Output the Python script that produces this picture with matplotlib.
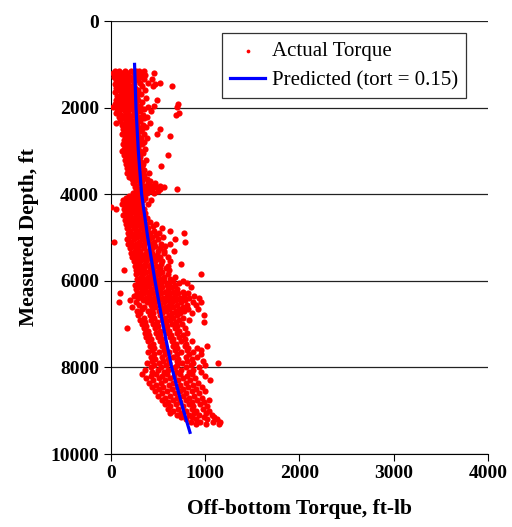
import matplotlib.pyplot as plt

# - - - Measured data (read off the chart) - - - #
# each row: depth (ft), torque values (ft-lb) at that depth
actual_rows = [
    (1160, [40, 85, 150, 210, 265, 300, 345]),
    (1200, [20, 120, 180, 240, 330, 455]),
    (1240, [60, 100, 160, 280, 365]),
    (1290, [35, 135, 205, 250, 315]),
    (1330, [75, 115, 190, 290, 350, 440]),
    (1370, [50, 145, 225, 270]),
    (1420, [95, 165, 310, 395, 515]),
    (1460, [40, 120, 185, 240, 470]),
    (1500, [70, 150, 205, 330, 445, 650]),
    (1550, [55, 100, 175, 255]),
    (1590, [85, 140, 215, 290, 360]),
    (1640, [45, 125, 190, 265]),
    (1690, [105, 160, 235, 320]),
    (1730, [65, 140, 200, 280]),
    (1780, [90, 175, 250, 370]),
    (1820, [50, 120, 215, 290, 490]),
    (1870, [80, 155, 230, 330]),
    (1910, [40, 110, 190, 260, 715]),
    (1950, [70, 135, 225, 310, 455]),
    (1990, [20, 95, 170, 250, 390, 700]),
    (2040, [60, 125, 205, 285, 345]),
    (2080, [90, 150, 240, 310, 420]),
    (2120, [55, 185, 265, 720]),
    (2160, [110, 160, 230, 340, 690]),
    (2210, [80, 140, 205, 295, 385]),
    (2250, [125, 190, 260, 355]),
    (2300, [100, 165, 235, 310]),
    (2350, [50, 145, 215, 280, 415]),
    (2400, [120, 185, 255, 340]),
    (2450, [150, 210, 290, 375]),
    (2500, [130, 195, 270, 330, 520]),
    (2550, [160, 225, 305]),
    (2600, [115, 185, 250, 350, 490]),
    (2650, [145, 210, 290, 630]),
    (2700, [170, 235, 320, 380]),
    (2750, [135, 200, 265]),
    (2800, [155, 220, 300, 345]),
    (2850, [125, 190, 250, 330]),
    (2900, [165, 230, 290]),
    (2950, [140, 205, 270, 360]),
    (3000, [120, 185, 245, 310]),
    (3050, [150, 215, 285, 340]),
    (3100, [135, 200, 260, 600]),
    (3150, [170, 235, 305]),
    (3200, [145, 210, 280, 370]),
    (3250, [180, 245, 315]),
    (3300, [155, 225, 290, 340]),
    (3350, [190, 260, 330, 530]),
    (3400, [165, 235, 300]),
    (3450, [200, 270, 345]),
    (3500, [175, 240, 310, 400]),
    (3550, [210, 280, 355]),
    (3600, [190, 255, 325]),
    (3650, [225, 300, 380]),
    (3700, [250, 330, 410]),
    (3750, [230, 310, 390, 470]),
    (3800, [270, 350, 430, 515]),
    (3840, [255, 330, 400, 480, 560]),
    (3880, [290, 370, 440, 525, 700]),
    (3930, [265, 345, 415, 495]),
    (3980, [235, 305, 380, 460]),
    (4030, [195, 270, 345]),
    (4080, [160, 225, 295, 365]),
    (4130, [130, 195, 265, 335, 420]),
    (4180, [145, 215, 285]),
    (4230, [120, 185, 250, 320, 395]),
    (4290, [0, 155, 225, 295]),
    (4340, [50, 135, 205, 270, 355]),
    (4390, [175, 240, 310]),
    (4440, [145, 215, 285, 365]),
    (4490, [125, 190, 260, 335]),
    (4540, [165, 235, 305, 385]),
    (4590, [145, 215, 280, 355]),
    (4640, [185, 255, 325, 415]),
    (4690, [155, 225, 295, 375, 480]),
    (4740, [195, 265, 345, 445]),
    (4790, [175, 245, 315, 395, 540]),
    (4840, [205, 285, 365, 455, 630]),
    (4890, [185, 255, 335, 415, 505, 770]),
    (4940, [225, 305, 385, 475]),
    (4990, [195, 275, 355, 435, 555]),
    (5040, [165, 245, 325, 405, 495, 680]),
    (5100, [30, 215, 295, 375, 455, 790]),
    (5150, [185, 265, 345, 425, 535, 630]),
    (5200, [230, 300, 345, 420, 470, 575]),
    (5250, [205, 265, 350, 440, 525]),
    (5300, [250, 310, 395, 500, 560, 670]),
    (5350, [215, 285, 375, 430, 560]),
    (5400, [260, 335, 395, 490]),
    (5450, [225, 300, 370, 455, 520, 610]),
    (5500, [270, 330, 425, 510]),
    (5550, [240, 310, 375, 465, 545, 630]),
    (5600, [285, 360, 420, 535, 740]),
    (5650, [250, 320, 400, 475, 600]),
    (5700, [290, 345, 445, 520, 580]),
    (5750, [140, 265, 330, 410, 505, 620]),
    (5800, [300, 370, 470, 545]),
    (5850, [265, 340, 425, 510, 600, 950]),
    (5900, [315, 395, 465, 565, 680]),
    (5950, [280, 355, 435, 520, 630]),
    (6000, [325, 385, 480, 560, 655, 760]),
    (6050, [290, 365, 440, 535, 620, 720, 810]),
    (6100, [250, 330, 400, 495, 590, 680]),
    (6150, [305, 375, 470, 545, 650, 850]),
    (6200, [270, 345, 425, 515, 610, 700]),
    (6250, [315, 395, 475, 570, 655, 760]),
    (6290, [100, 280, 355, 445, 535, 630, 715, 820]),
    (6350, [240, 320, 405, 495, 590, 675, 770, 880]),
    (6400, [290, 375, 455, 550, 640, 735, 830, 930]),
    (6450, [200, 335, 420, 505, 600, 690, 790]),
    (6500, [85, 260, 380, 465, 560, 650, 745, 870, 950]),
    (6550, [300, 425, 515, 615, 695, 805, 900]),
    (6600, [220, 355, 470, 575, 655, 765]),
    (6650, [330, 435, 540, 615, 725, 815, 920]),
    (6700, [280, 395, 505, 585, 685, 775]),
    (6750, [310, 445, 545, 645, 735, 860]),
    (6800, [290, 410, 515, 615, 700, 990]),
    (6850, [345, 455, 575, 655, 765]),
    (6900, [310, 425, 545, 625, 725, 830]),
    (6950, [360, 485, 585, 685, 990]),
    (7000, [330, 445, 565, 645, 755]),
    (7050, [375, 495, 595, 705]),
    (7100, [175, 350, 465, 585, 675, 790]),
    (7150, [390, 515, 615, 725]),
    (7200, [360, 475, 605, 695, 810]),
    (7250, [405, 525, 635, 765]),
    (7300, [370, 495, 625, 725]),
    (7350, [420, 545, 655, 785]),
    (7400, [390, 515, 645, 745, 860]),
    (7450, [445, 555, 685, 795]),
    (7500, [410, 545, 655, 785, 1020]),
    (7550, [460, 575, 705, 815, 910]),
    (7600, [430, 565, 675, 805, 950]),
    (7650, [390, 505, 615, 745, 870]),
    (7700, [455, 575, 705, 825, 960]),
    (7750, [420, 545, 655, 795, 910]),
    (7800, [470, 605, 715, 855]),
    (7850, [440, 555, 695, 805, 980]),
    (7900, [380, 505, 615, 755, 875, 1130]),
    (7950, [460, 585, 705, 845, 1000]),
    (8000, [420, 535, 675, 795, 930]),
    (8050, [360, 495, 605, 745, 865]),
    (8100, [440, 565, 685, 825, 960]),
    (8150, [330, 475, 595, 735, 855]),
    (8200, [420, 545, 665, 805, 1000]),
    (8250, [370, 505, 625, 765, 895]),
    (8300, [450, 575, 715, 835, 1050]),
    (8350, [400, 535, 655, 795, 925]),
    (8400, [480, 615, 735, 875]),
    (8450, [430, 555, 695, 815, 970]),
    (8500, [510, 645, 765, 905]),
    (8550, [470, 595, 735, 855, 1000]),
    (8600, [540, 675, 795, 935]),
    (8650, [500, 625, 765, 885]),
    (8700, [570, 705, 825, 965]),
    (8750, [540, 655, 795, 915, 1040]),
    (8800, [600, 735, 855, 985]),
    (8850, [570, 685, 825, 945]),
    (8900, [630, 765, 875, 1015]),
    (8950, [600, 715, 855, 975]),
    (9000, [660, 795, 905, 1045]),
    (9050, [630, 745, 885, 1005]),
    (9100, [700, 825, 935, 1075]),
    (9150, [740, 855, 985, 1095]),
    (9200, [800, 905, 1015, 1125]),
    (9250, [850, 945, 1085, 1160]),
    (9300, [900, 1005, 1150]),
]

pred_depth = [1000, 2000, 3000, 4000, 5000, 6000, 7000, 8000, 9000, 9500]
pred_torque = [250, 265, 290, 325, 390, 467, 550, 644, 770, 838]

act_depth = []
act_torque = []
for d, vals in actual_rows:
    for v in vals:
        act_depth.append(d)
        act_torque.append(v)

plt.rcParams['font.family'] = ['Liberation Serif', 'DejaVu Serif']

fig = plt.figure(figsize=(5.12, 5.27), dpi=100)
ax = fig.add_axes([0.2168, 0.1385, 0.7363, 0.8215])

ax.scatter(act_torque, act_depth, s=20, color='#ff0000', linewidths=0,
           label='Actual Torque', zorder=3)
ax.plot(pred_torque, pred_depth, color='#0000ff', lw=2.3,
        label='Predicted (tort = 0.15)', zorder=4)

ax.set_xlim(0, 4000)
ax.set_ylim(10000, 0)
ax.set_xticks([0, 1000, 2000, 3000, 4000])
ax.set_yticks([0, 2000, 4000, 6000, 8000, 10000])
ax.yaxis.grid(True, color='#222222', lw=0.9)
ax.set_axisbelow(True)
for s in ['top', 'right']:
    ax.spines[s].set_visible(False)
ax.tick_params(direction='out', length=5, width=0.8, labelsize=14)
ax.tick_params(axis='x', pad=3)
for lab in ax.get_xticklabels() + ax.get_yticklabels():
    lab.set_fontweight('bold')

ax.set_xlabel('Off-bottom Torque, ft-lb', fontsize=15.5, fontweight='bold', labelpad=12)
ax.set_ylabel('Measured Depth, ft', fontsize=15.5, fontweight='bold', labelpad=8)

leg = ax.legend(loc='upper right', bbox_to_anchor=(0.942, 0.972), fontsize=15,
                fancybox=False, framealpha=1, edgecolor='#333333',
                markerscale=0.6, handlelength=1.7, handletextpad=0.3,
                borderpad=0.4, labelspacing=0.45, borderaxespad=0)
leg.get_frame().set_linewidth(0.9)

fig.savefig('out.png', dpi=100)
